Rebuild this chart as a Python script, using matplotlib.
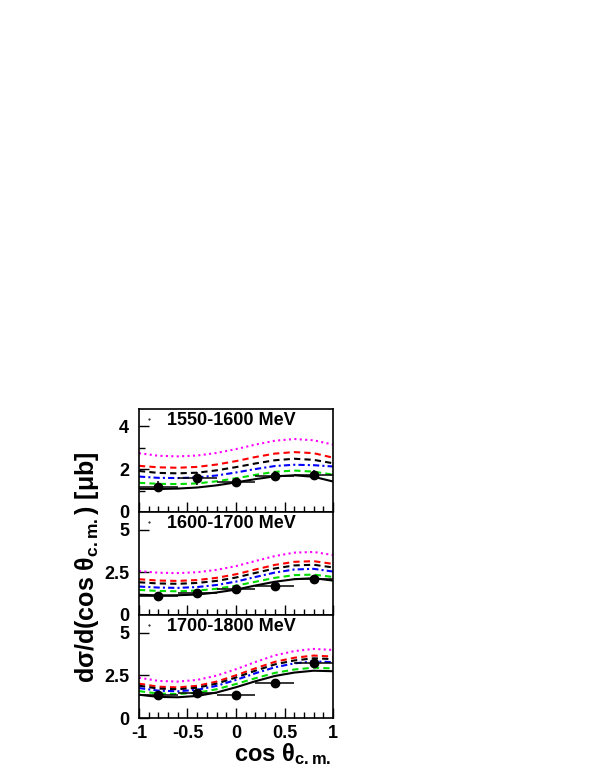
import matplotlib
matplotlib.use('Agg')
import matplotlib.pyplot as plt
from matplotlib.ticker import MultipleLocator, FixedLocator

plt.rcParams['font.family'] = ['Liberation Sans', 'DejaVu Sans']
plt.rcParams['font.weight'] = 'bold'
plt.rcParams['mathtext.fontset'] = 'custom'
plt.rcParams['mathtext.rm'] = 'Liberation Sans:bold'
plt.rcParams['mathtext.bf'] = 'Liberation Sans:bold'
plt.rcParams['mathtext.it'] = 'Liberation Sans:bold'
plt.rcParams['axes.unicode_minus'] = False

# angle grid of the model curves and bin centres of the data
x_curve = [-1.0, -0.8, -0.6, -0.4, -0.2, 0.0, 0.2, 0.4, 0.6, 0.8, 1.0]
x_data = [-0.8, -0.4, 0.0, 0.4, 0.8]
x_err = [0.2, 0.2, 0.2, 0.2, 0.2]

titles = ['1550-1600 MeV', '1600-1700 MeV', '1700-1800 MeV']

# panel 1
p1_data = [1.18, 1.57, 1.38, 1.69, 1.74]
p1_err = [0.27, 0.30, 0.20, 0.20, 0.22]
p1_magenta = [2.74, 2.62, 2.59, 2.63, 2.75, 2.93, 3.14, 3.32, 3.40, 3.34, 3.14]
p1_red = [2.15, 2.08, 2.06, 2.10, 2.21, 2.37, 2.56, 2.72, 2.79, 2.74, 2.53]
p1_black = [1.91, 1.82, 1.80, 1.83, 1.94, 2.09, 2.26, 2.41, 2.48, 2.43, 2.27]
p1_blue = [1.65, 1.59, 1.58, 1.61, 1.70, 1.84, 2.00, 2.14, 2.20, 2.18, 2.12]
p1_green = [1.36, 1.31, 1.30, 1.33, 1.43, 1.57, 1.73, 1.87, 1.93, 1.88, 1.74]
p1_solid = [1.08, 1.07, 1.09, 1.14, 1.24, 1.38, 1.53, 1.66, 1.71, 1.64, 1.42]

# panel 2
p2_data = [1.11, 1.27, 1.53, 1.73, 2.13]
p2_err = [0.08, 0.10, 0.10, 0.12, 0.12]
p2_magenta = [2.58, 2.48, 2.46, 2.51, 2.65, 2.87, 3.17, 3.46, 3.66, 3.70, 3.52]
p2_red = [2.10, 2.02, 2.00, 2.05, 2.18, 2.39, 2.67, 2.94, 3.12, 3.16, 3.00]
p2_black = [1.92, 1.85, 1.83, 1.88, 2.00, 2.20, 2.47, 2.73, 2.91, 2.95, 2.79]
p2_blue = [1.67, 1.61, 1.59, 1.64, 1.76, 1.96, 2.23, 2.49, 2.67, 2.71, 2.55]
p2_green = [1.47, 1.41, 1.39, 1.43, 1.54, 1.72, 1.95, 2.18, 2.34, 2.37, 2.23]
p2_solid = [1.19, 1.15, 1.16, 1.20, 1.32, 1.49, 1.73, 1.95, 2.10, 2.16, 2.02]

# panel 3
p3_data = [1.35, 1.45, 1.35, 2.08, 3.21]
p3_err = [0.10, 0.12, 0.10, 0.12, 0.30]
p3_magenta = [2.37, 2.18, 2.14, 2.24, 2.49, 2.87, 3.29, 3.68, 3.93, 4.06, 4.00]
p3_red = [2.02, 1.84, 1.80, 1.89, 2.14, 2.51, 2.92, 3.30, 3.54, 3.67, 3.61]
p3_black = [1.90, 1.73, 1.69, 1.78, 2.02, 2.38, 2.78, 3.15, 3.38, 3.51, 3.46]
p3_blue = [1.76, 1.61, 1.57, 1.66, 1.89, 2.24, 2.63, 2.98, 3.21, 3.33, 3.28]
p3_green = [1.58, 1.44, 1.41, 1.49, 1.69, 2.00, 2.34, 2.65, 2.85, 2.96, 2.91]
p3_solid = [1.37, 1.24, 1.22, 1.30, 1.50, 1.81, 2.16, 2.47, 2.67, 2.78, 2.75]

panels = [
    (p1_data, p1_err, p1_magenta, p1_red, p1_black, p1_blue, p1_green, p1_solid),
    (p2_data, p2_err, p2_magenta, p2_red, p2_black, p2_blue, p2_green, p2_solid),
    (p3_data, p3_err, p3_magenta, p3_red, p3_black, p3_blue, p3_green, p3_solid),
]
ymax = [4.8, 6.05, 6.05]
yticks = [[0, 2, 4], [0, 2.5, 5], [0, 2.5, 5]]
yticklabels = [['0', '2', '4'], ['0', '2.5', '5'], ['0', '2.5', '5']]

fig = plt.figure(figsize=(5.99, 7.75), dpi=100)
bottoms = [0.3394, 0.2065, 0.0735]
for i, (data, err, mag, red, blk, blu, grn, sol) in enumerate(panels):
    ax = fig.add_axes([0.232, bottoms[i], 0.324, 0.1329])
    ax.plot(x_curve, mag, color='#ff00ff', lw=1.5, ls=(0, (1, 1.6)))
    ax.plot(x_curve, red, color='#ff0000', lw=1.5, ls=(0, (3, 2)))
    ax.plot(x_curve, blk, color='black', lw=1.5, ls=(0, (3, 2)))
    ax.plot(x_curve, blu, color='#0000ff', lw=1.5, ls=(0, (3, 1.5, 1, 1.5)))
    ax.plot(x_curve, grn, color='#00dd00', lw=1.5, ls=(0, (3, 2)))
    ax.plot(x_curve, sol, color='black', lw=1.5)
    ax.errorbar(x_data, data, xerr=x_err, yerr=err, fmt='o', color='black',
                ms=6, elinewidth=1.1, capsize=0)
    ax.plot([-0.9], [ymax[i] * 0.9], marker='.', ms=1, color='black')
    ax.text(0.474, 0.89, titles[i], transform=ax.transAxes, ha='center',
            va='center', fontsize=13, fontweight='bold')
    ax.set_xlim(-1, 1)
    ax.set_ylim(0, ymax[i])
    ax.xaxis.set_major_locator(MultipleLocator(0.5))
    ax.xaxis.set_minor_locator(MultipleLocator(0.1))
    ax.yaxis.set_major_locator(FixedLocator(yticks[i]))
    ax.set_yticklabels(yticklabels[i])
    if i == 0:
        ax.yaxis.set_minor_locator(MultipleLocator(1))
    ax.tick_params(which='both', direction='in', top=False, right=False,
                   width=1, labelsize=13)
    ax.tick_params(which='major', length=7, pad=7)
    ax.tick_params(which='minor', length=4)
    for lab in ax.get_yticklabels() + ax.get_xticklabels():
        lab.set_fontweight('bold')
    for sp in ax.spines.values():
        sp.set_linewidth(1.2)
    if i < 2:
        ax.tick_params(axis='x', labelbottom=False)
    else:
        ax.set_xticks([-1, -0.5, 0, 0.5, 1])
        ax.set_xticklabels(['-1', '-0.5', '0', '0.5', '1'], fontweight='bold')
        ax.tick_params(axis='x', which='major', pad=5)

fig.text(0.145, 0.268, r'dσ/d(cos θ$_{\mathbf{c.m.}}$) [μb]', rotation=90,
         ha='center', va='center', fontsize=18, fontweight='bold')
fig.text(0.553, 0.0175, r'cos θ$_{\mathbf{c.m.}}$', ha='right', va='baseline',
         fontsize=17, fontweight='bold')

fig.savefig('out.png', dpi=100)
